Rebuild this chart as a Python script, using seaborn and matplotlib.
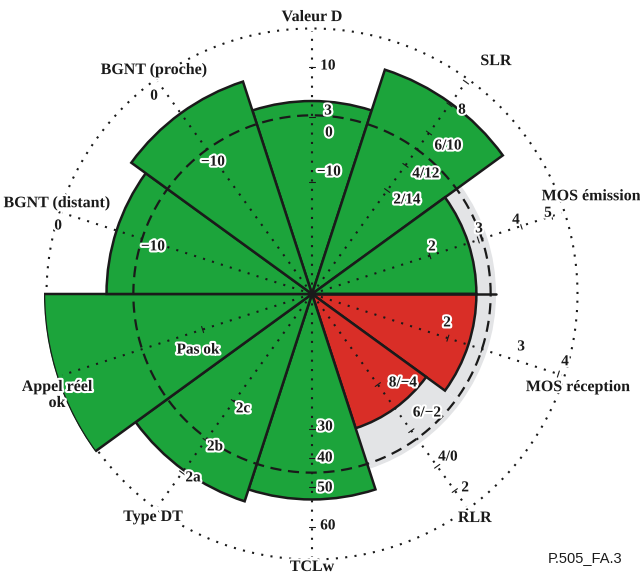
import numpy as np
import matplotlib.pyplot as plt
import matplotlib.patheffects as pe
import seaborn as sns

sns.set_theme(style="white")
plt.rcParams['font.family'] = ['Liberation Serif', 'DejaVu Serif']

# sectors, counter-clockwise from the top; radius 1.0 = threshold (dashed circle)
SECTORS = ["Valeur D", "SLR", "MOS émission", "MOS réception", "RLR",
           "TCLw", "Type DT", "Appel réel\nok", "BGNT (distant)", "BGNT (proche)"]
ANGLES = [90, 54, 18, -18, -54, -90, -126, -162, 162, 126]
SCORES = [1.08, 1.32, 0.92, 0.92, 0.79, 1.15, 1.22, 1.50, 1.15, 1.25]
PASSED = [True, True, True, False, False, True, True, True, True, True]

# tick marks along each axis (radius) and their labels
TICK_RADII = {
    "Valeur D": [1.27, 0.99, 0.627],
    "SLR": [0.716, 0.89, 1.114, 1.309, 1.466],
    "MOS émission": [0.694, 0.979, 1.231, 1.41],
    "MOS réception": [0.80, 1.0, 1.45],
    "RLR": [0.627, 0.946, 1.192, 1.36],
    "TCLw": [0.755, 0.918, 1.08, 1.304],
    "Type DT": [0.744, 1.013, 1.237],
    "Appel réel\nok": [0.644],
}
TICK_TEXT = {
    "Valeur D": ["10", "3", "0", "−10"],
    "SLR": ["8", "6/10", "4/12", "2/14"],
    "MOS émission": ["2", "3", "4", "5"],
    "MOS réception": ["2", "3", "4"],
    "RLR": ["8/−4", "6/−2", "4/0", "2"],
    "TCLw": ["30", "40", "50", "60"],
    "Type DT": ["2c", "2b", "2a"],
    "Appel réel\nok": ["Pas ok"],
    "BGNT (distant)": ["0", "−10"],
    "BGNT (proche)": ["0", "−10"],
}
# where each tick label sits (degrees, radius)
TICK_POS = {
    "Valeur D": [(86.0, 1.279), (85.0, 1.028), (84.0, 0.906), (82.1, 0.689)],
    "SLR": [(50.8, 1.328), (47.4, 1.125), (46.5, 0.926), (44.7, 0.748)],
    "MOS émission": [(21.4, 0.721), (21.3, 1.003), (19.9, 1.214), (18.9, 1.396)],
    "MOS réception": [(-12.1, 0.773), (-14.2, 1.207), (-15.0, 1.466)],
    "RLR": [(-44.4, 0.712), (-46.0, 0.926), (-50.2, 1.188), (-51.7, 1.383)],
    "TCLw": [(-84.4, 0.748), (-85.5, 0.921), (-86.2, 1.088), (-86.1, 1.301)],
    "Type DT": [(-121.0, 0.75), (-122.4, 1.014), (-122.9, 1.226)],
    "Appel réel\nok": [(-153.8, 0.711)],
    "BGNT (distant)": [(165.0, 1.471), (163.5, 0.928)],
    "BGNT (proche)": [(128.6, 1.417), (126.9, 0.923)],
}
NAME_POS = [(90, 1.55), (51.7, 1.661), (19.3, 1.655), (-19.3, 1.577), (-54.0, 1.55),
            (-90, 1.528), (-125.5, 1.533), (-158.4, 1.535), (160.4, 1.515), (125.2, 1.534)]

GREEN = '#1ca43b'
RED = '#d92e27'
GRAY = '#e3e4e6'
OUTER = 1.486

fig = plt.figure(figsize=(6.4, 5.76), dpi=100)
ax = fig.add_axes([0.06875, 0.0243, 0.8375, 0.9306], projection='polar')
ax.set_ylim(0, 1.5)
ax.axis('off')

theta = np.deg2rad(ANGLES)
width = np.deg2rad(36)
scores = np.array(SCORES)

# tolerance band behind the sectors that stay under the threshold
low = scores < 1
ax.bar(theta[low], 1.03, width=width, color=GRAY, linewidth=0, zorder=1)
ax.plot([0, 0], [0, 1.03], color='#1a1a1a', lw=1.8, zorder=3)

colors = [GREEN if ok else RED for ok in PASSED]
ax.bar(theta, scores, width=width, color=colors, edgecolor='#1a1a1a',
       linewidth=1.8, zorder=2)

circ = np.linspace(0, 2 * np.pi, 500)
ax.plot(circ, np.full_like(circ, 1.0), color='#1a1a1a', lw=1.6,
        linestyle=(0, (5, 3)), zorder=4)
ax.plot(circ, np.full_like(circ, OUTER), color='#1a1a1a', lw=1.5,
        linestyle=(0, (1, 3.5)), zorder=1.5)

halo = [pe.withStroke(linewidth=3, foreground='white')]

for name, th, npos in zip(SECTORS, theta, NAME_POS):
    ax.plot([th, th], [0, 1.47], color='#1a1a1a', lw=1.5,
            linestyle=(0, (1, 3.5)), zorder=5)
    for r in TICK_RADII.get(name, []):
        d = 0.018 / r
        ax.plot([th - d, th + d], [r, r], color='#1a1a1a', lw=0.8, zorder=5)
    for txt, (deg, r) in zip(TICK_TEXT.get(name, []), TICK_POS.get(name, [])):
        ax.text(np.deg2rad(deg), r, txt, ha='center', va='center', fontsize=11,
                fontweight='bold', color='#1a1a1a', path_effects=halo, zorder=6)
    ax.text(np.deg2rad(npos[0]), npos[1], name, ha='center', va='center',
            fontsize=11.5, fontweight='bold', color='#1a1a1a', linespacing=1.0,
            path_effects=halo, zorder=6)

fig.text(0.972, 1 - 558 / 576, "P.505_FA.3", ha='right', va='center',
         fontsize=10.5, family='Liberation Sans', color='#1a1a1a')

fig.savefig('out.png', dpi=100)
